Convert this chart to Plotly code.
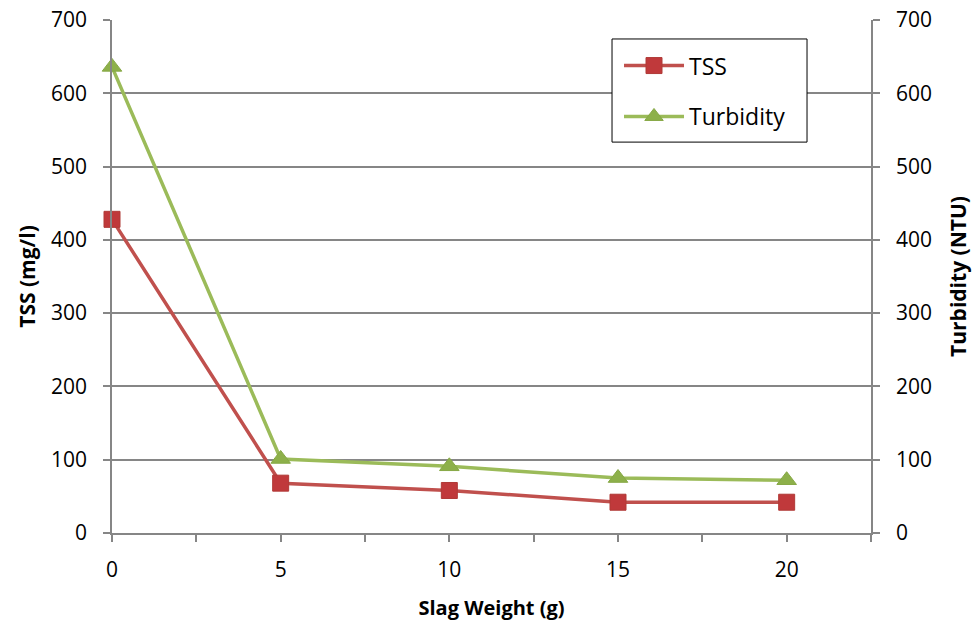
import plotly.graph_objects as go

# Slag weight dosage (g) and measured water quality
slag_weight = [0, 5, 10, 15, 20]
tss = [428, 68, 58, 42, 42]
turbidity = [636, 101, 91, 75, 72]

x_tick_vals = [0, 2.5, 5, 7.5, 10, 12.5, 15, 17.5, 20, 22.5]
x_tick_text = ["0", "", "5", "", "10", "", "15", "", "20", ""]

FONT = "Open Sans, Calibri, sans-serif"
AXIS_GREY = "#868686"

fig = go.Figure()

fig.add_trace(go.Scatter(
    x=slag_weight, y=tss, name="TSS", mode="lines+markers",
    legendgroup="a", cliponaxis=False,
    line=dict(color="#C0504D", width=3.5),
    marker=dict(symbol="square", size=16, color="#C0393B",
                line=dict(color="#B03A37", width=1)),
))
fig.add_trace(go.Scatter(
    x=slag_weight, y=turbidity, name="Turbidity", mode="lines+markers",
    legendgroup="b", yaxis="y2", cliponaxis=False,
    line=dict(color="#9BBB59", width=3.5),
    marker=dict(symbol="triangle-up", size=17, color="#8DB04A",
                line=dict(color="#86A845", width=1)),
))

# Legend frame drawn as a shape so it can be wider than the entries
fig.add_shape(
    type="rect", xref="paper", yref="paper",
    x0=0.6588, x1=0.9157, y0=0.762, y1=0.963,
    fillcolor="white", line=dict(color="black", width=1), layer="above",
)

fig.update_layout(
    width=978, height=624,
    margin=dict(l=112, r=107, t=20, b=91),
    paper_bgcolor="white", plot_bgcolor="white",
    font=dict(family=FONT, size=21, color="black"),
    showlegend=True,
    legend=dict(
        x=0.668, y=0.953, xanchor="left", yanchor="top",
        bgcolor="rgba(0,0,0,0)", borderwidth=0,
        font=dict(family=FONT, size=23),
        itemwidth=60, tracegroupgap=18,
    ),
    xaxis=dict(
        range=[0, 22.5], tickmode="array",
        tickvals=x_tick_vals, ticktext=x_tick_text,
        ticks="outside", ticklen=7, tickcolor=AXIS_GREY, tickwidth=1.5,
        showline=True, linecolor=AXIS_GREY, linewidth=1.5,
        showgrid=False, zeroline=False, automargin=False,
        ticklabelstandoff=10,
        title=dict(text="<b>Slag Weight (g)</b>", font=dict(size=20), standoff=19),
        tickfont=dict(size=21),
    ),
    yaxis=dict(
        range=[0, 700], dtick=100,
        ticks="outside", ticklen=7, tickcolor=AXIS_GREY, tickwidth=1.5,
        showline=True, linecolor=AXIS_GREY, linewidth=1.5,
        showgrid=True, gridcolor=AXIS_GREY, gridwidth=1.5, zeroline=False,
        automargin=False, ticklabelstandoff=12,
        title=dict(text="<b>TSS (mg/l)</b>", font=dict(size=21), standoff=10),
        tickfont=dict(size=21),
    ),
    yaxis2=dict(
        range=[0, 700], dtick=100, overlaying="y", side="right",
        ticks="outside", ticklen=7, tickcolor=AXIS_GREY, tickwidth=1.5,
        showline=True, linecolor=AXIS_GREY, linewidth=1.5,
        showgrid=False, zeroline=False,
        automargin=False, ticklabelstandoff=12,
        title=dict(text="<b>Turbidity (NTU)</b>", font=dict(size=21), standoff=20),
        tickfont=dict(size=21),
    ),
)

fig.write_html("out.html")
